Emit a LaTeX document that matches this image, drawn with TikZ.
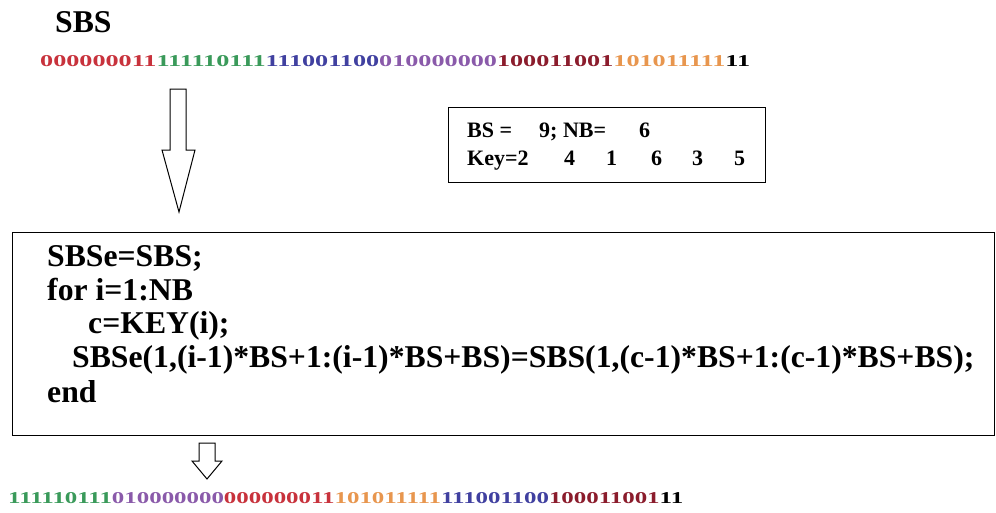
\documentclass[tikz,border=0pt]{standalone}
\usepackage{fontspec}
\setmainfont{Liberation Serif}
\usepackage{graphicx}
\definecolor{cA}{HTML}{C8323C}
\definecolor{cB}{HTML}{3A9A5A}
\definecolor{cC}{HTML}{4040A0}
\definecolor{cD}{HTML}{8A5AAA}
\definecolor{cE}{HTML}{8B1C2C}
\definecolor{cF}{HTML}{E8964E}
\tikzset{
  frame/.style={draw=black, line width=1.2pt, inner sep=0pt},
  hollow/.style={draw=black, line width=1pt, fill=white},
  code/.style={anchor=base west, inner sep=0pt, font=\bfseries\fontsize{31.7}{32}\selectfont},
  keytxt/.style={anchor=base west, inner sep=0pt, font=\bfseries\fontsize{22}{22}\selectfont},
  bits/.style={anchor=base west, inner sep=0pt, font=\bfseries\fontsize{16}{16}\selectfont}
}
\begin{document}
\begin{tikzpicture}[x=1pt,y=-1pt]
\useasboundingbox[fill=white] (0,0) rectangle (996,512);
% title
\node[code] (title) at (55,32) {SBS};
% top bit string
\node[bits] (topbits) at (40,66) {\resizebox{710pt}{11pt}{\textcolor{cA}{000000011}\textcolor{cB}{111110111}\textcolor{cC}{111001100}\textcolor{cD}{010000000}\textcolor{cE}{100011001}\textcolor{cF}{101011111}\textcolor{black}{11}}};
% big arrow
\draw[hollow] (170,89) -- (186,89) -- (186,150) -- (195,150) -- (179,212) -- (162,150) -- (170,150) -- cycle;
% key box
\node[frame, anchor=north west, minimum width=317pt, minimum height=75pt] (keybox) at (448,107) {};
\node[keytxt] (bs) at (467,137) {BS =};
\node[keytxt] (bsv) at (539,137) {9; NB=};
\node[keytxt] (nbv) at (639,137) {6};
\node[keytxt] (key) at (467,165) {Key=2};
\node[keytxt] (k2) at (564,165) {4};
\node[keytxt] (k3) at (606,165) {1};
\node[keytxt] (k4) at (651,165) {6};
\node[keytxt] (k5) at (692,165) {3};
\node[keytxt] (k6) at (734,165) {5};
% code box
\node[frame, anchor=north west, minimum width=982pt, minimum height=203pt] (codebox) at (12,232) {};
\node[code] (l1) at (47,266) {SBSe=SBS;};
\node[code] (l2) at (47,300) {for i=1:NB};
\node[code] (l3) at (88,333) {c=KEY(i);};
\node[code] (l4) at (72,367) {SBSe(1,(i-1)*BS+1:(i-1)*BS+BS)=SBS(1,(c-1)*BS+1:(c-1)*BS+BS);};
\node[code] (l5) at (47,402) {end};
% small arrow
\draw[hollow] (199,443) -- (215,443) -- (215,461) -- (222,461) -- (207,479) -- (192,461) -- (199,461) -- cycle;
% bottom bit string
\node[bits] (botbits) at (8,503) {\resizebox{675pt}{11pt}{\textcolor{cB}{111110111}\textcolor{cD}{010000000}\textcolor{cA}{000000011}\textcolor{cF}{101011111}\textcolor{cC}{111001100}\textcolor{cE}{100011001}\textcolor{black}{11}}};
\end{tikzpicture}
\end{document}
